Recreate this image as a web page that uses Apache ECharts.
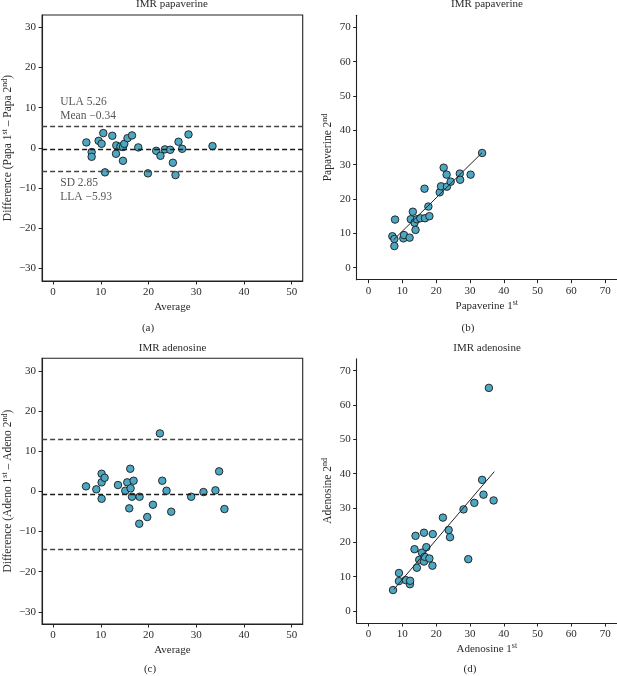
<!DOCTYPE html>
<html><head><meta charset="utf-8">
<script src="https://cdn.jsdelivr.net/npm/echarts@6/dist/echarts.min.js"></script>
<style>html,body{margin:0;padding:0;background:#fff}#c{width:617px;height:676px}</style>
</head><body><div id="c"></div>
<script>
// ---- data ----
const papaAvg  = [6.97, 8.08, 8.08, 9.54, 10.17, 10.52, 10.88, 12.41, 13.18, 13.24, 14.1, 14.64, 14.64, 14.92, 15.6, 16.53, 17.85, 19.87, 21.6, 22.5, 23.43, 24.54, 25.1, 25.65, 26.28, 27.05, 28.37, 33.4];
const papaDiff = [1.34, -1.07, -2.24, 1.74, 1.0, 3.66, -6.12, 3.0, -1.49, 0.6, 0.3, 0.2, -3.24, 1.0, 2.41, 3.08, 0.1, -6.37, -0.75, -1.99, -0.4, -0.5, -3.73, -6.8, 1.5, -0.25, 3.33, 0.42];
const papaLimits = [5.26, -0.34, -5.93];   // ULA, mean, LLA
const papaSD = 2.85;

const papa1 = [7.05, 7.64, 7.64, 7.84, 10.3, 10.5, 12.15, 12.5, 13.1, 13.6, 13.9, 14.3, 15.3, 16.56, 16.7, 17.7, 18.0, 21.06, 21.45, 22.23, 23.1, 23.2, 24.3, 27.0, 27.1, 30.2, 33.6];
const papa2 = [9.15, 8.36, 6.3, 14.0, 8.55, 9.5, 8.75, 14.1, 16.3, 13.1, 11.0, 14.1, 14.4, 23.0, 14.4, 17.8, 15.0, 21.95, 23.7, 29.13, 27.1, 23.6, 25.05, 27.4, 25.6, 27.1, 33.4];
const papaFitX = [7.4, 33.6];
const papaFitY = [8.1, 33.5];

const adenoAvg  = [6.9, 9.06, 10.17, 10.17, 10.17, 10.8, 13.6, 15.13, 15.54, 15.96, 16.17, 16.24, 16.53, 16.87, 18.05, 18.12, 19.73, 20.92, 22.38, 22.87, 23.77, 24.75, 28.93, 31.51, 34.02, 34.79, 35.9];
const adenoDiff = [1.24, 0.5, 4.38, 2.24, -1.84, 3.38, 1.57, 0.15, 2.24, -4.23, 5.62, 0.75, -1.34, 2.64, -8.06, -1.34, -6.39, -3.33, 14.42, 2.64, 0.15, -5.07, -1.34, -0.17, 0.25, 4.97, -4.4];
const adenoLimits = [13.0, -0.65, -14.3];

const adeno1 = [7.25, 9.0, 9.0, 11.0, 12.25, 12.3, 13.6, 13.9, 14.3, 15.0, 15.8, 16.4, 16.4, 16.6, 17.1, 18.0, 18.9, 19.0, 22.0, 23.7, 24.1, 28.1, 29.5, 31.3, 33.6, 34.0, 35.6, 37.0];
const adeno2 = [6.1, 11.07, 8.7, 9.0, 7.8, 8.8, 18.0, 21.9, 12.6, 14.9, 17.0, 22.8, 14.4, 15.8, 18.6, 15.3, 13.2, 22.4, 27.2, 23.6, 21.5, 29.6, 15.1, 31.5, 38.2, 33.9, 65.0, 32.2];
const adenoFitX = [7.5, 37.2];
const adenoFitY = [6.3, 40.6];

const avgTicks  = [0, 10, 20, 30, 40, 50];
const diffTicks = [-30, -20, -10, 0, 10, 20, 30];
const measTicks = [0, 10, 20, 30, 40, 50, 60, 70];

// ---- styling ----
const FONT = '"Liberation Serif", "DejaVu Serif", serif';
const TXT = '#2b2b2b';
const AXC = '#222';
const FILL = '#4da7c2';
const fmt = v => String(v).replace('-', '\u2212');
const zip = (a, b) => a.map((v, i) => [v, b[i]]);
const supRich = {sup: {fontSize: 8, lineHeight: 7, verticalAlign: 'top', fontFamily: FONT, color: TXT}};

function axis(kind, gi, min, max, ticks, name, gap) {
  return {
    type: 'value', gridIndex: gi, min, max, name,
    nameLocation: 'middle', nameGap: gap, nameRotate: kind === 'y' ? 90 : 0,
    nameTextStyle: {fontFamily: FONT, fontSize: kind === 'y' ? 11.5 : 11, color: TXT, lineHeight: 14, rich: supRich},
    axisLine: {show: true, onZero: false, lineStyle: {color: AXC, width: 1.1}},
    axisTick: {show: true, length: 3.5, customValues: ticks, lineStyle: {color: AXC, width: 1}},
    axisLabel: {customValues: ticks, margin: 6, fontFamily: FONT, fontSize: 11, color: TXT, formatter: fmt},
    splitLine: {show: false}
  };
}

const boxGrid = {show: true, borderColor: AXC, borderWidth: 1.1, backgroundColor: 'transparent'};
const grids = [
  Object.assign({left: 41.7, top: 15, width: 261, height: 266}, boxGrid),
  {left: 356.7, top: 15.3, width: 262.2, height: 264.4},
  Object.assign({left: 41.7, top: 358.3, width: 261, height: 265.7}, boxGrid),
  {left: 356.7, top: 358.7, width: 262.2, height: 264.3}
];

const xAxes = [
  axis('x', 0, -2.3, 52.3, avgTicks, 'Average', 19),
  axis('x', 1, -3.5, 73.5, measTicks, 'Papaverine 1{sup|st}', 19),
  axis('x', 2, -2.3, 52.3, avgTicks, 'Average', 19),
  axis('x', 3, -3.5, 73.5, measTicks, 'Adenosine 1{sup|st}', 19)
];
const yAxes = [
  axis('y', 0, -33.2, 33.1, diffTicks, 'Difference (Papa 1{sup|st} \u2013 Papa 2{sup|nd})', 21),
  axis('y', 1, -3.5, 73.5, measTicks, 'Papaverine 2{sup|nd}', 22),
  axis('y', 2, -33.0, 33.1, diffTicks, 'Difference (Adeno 1{sup|st} \u2013 Adeno 2{sup|nd})', 21),
  axis('y', 3, -3.5, 73.5, measTicks, 'Adenosine 2{sup|nd}', 22)
];

const pointStyle = {color: FILL, borderColor: '#1a1a1a', borderWidth: 0.9, opacity: 1};
function pts(i, data) {
  return {type: 'scatter', xAxisIndex: i, yAxisIndex: i, data, symbolSize: 7.5,
    itemStyle: pointStyle, z: 3, silent: true, emphasis: {disabled: true}};
}
function limits(i, vals) {
  const colors = ['#444', '#1a1a1a', '#444'];
  return {type: 'line', xAxisIndex: i, yAxisIndex: i, data: [], z: 2, silent: true,
    markLine: {silent: true, symbol: 'none', label: {show: false}, animation: false,
      data: vals.map((v, k) => ({yAxis: v, lineStyle: {type: [5, 3], width: 1.3, color: colors[k]}}))}};
}
function fit(i, xs, ys) {
  return {type: 'line', xAxisIndex: i, yAxisIndex: i, data: zip(xs, ys), symbol: 'none',
    lineStyle: {color: '#222', width: 1}, z: 4, silent: true};
}
const annTexts = ['ULA ' + fmt(papaLimits[0]), 'Mean ' + fmt(papaLimits[1]), 'SD ' + papaSD, 'LLA ' + fmt(papaLimits[2])];
const annPos = [[1.5, 11.45], [1.5, 7.9], [1.5, -8.7], [1.5, -12.2]];
const annotations = {
  type: 'scatter', xAxisIndex: 0, yAxisIndex: 0, symbolSize: 0, silent: true, z: 5,
  data: annPos.map((p, k) => ({value: p, name: annTexts[k]})),
  label: {show: true, position: 'right', distance: 0, formatter: p => p.name,
    fontFamily: FONT, fontSize: 11.5, color: TXT}
};

function txt(x, y, s) {
  return {type: 'text', x, y, silent: true,
    style: {text: s, font: '11px ' + FONT, fill: TXT, align: 'center', verticalAlign: 'middle'}};
}

const option = {
  animation: false,
  backgroundColor: '#fff',
  grid: grids, xAxis: xAxes, yAxis: yAxes,
  series: [
    limits(0, papaLimits), pts(0, zip(papaAvg, papaDiff)), annotations,
    pts(1, zip(papa1, papa2)), fit(1, papaFitX, papaFitY),
    limits(2, adenoLimits), pts(2, zip(adenoAvg, adenoDiff)),
    pts(3, zip(adeno1, adeno2)), fit(3, adenoFitX, adenoFitY)
  ],
  graphic: [
    txt(172, 4, 'IMR papaverine'), txt(487, 4, 'IMR papaverine'),
    txt(148, 328, '(a)'), txt(468, 328, '(b)'),
    txt(172.5, 348, 'IMR adenosine'), txt(487, 348, 'IMR adenosine'),
    txt(150, 669, '(c)'), txt(470, 669, '(d)')
  ]
};
const chart = echarts.init(document.getElementById('c'), null, {renderer: 'canvas'});
chart.setOption(option);
</script></body></html>
